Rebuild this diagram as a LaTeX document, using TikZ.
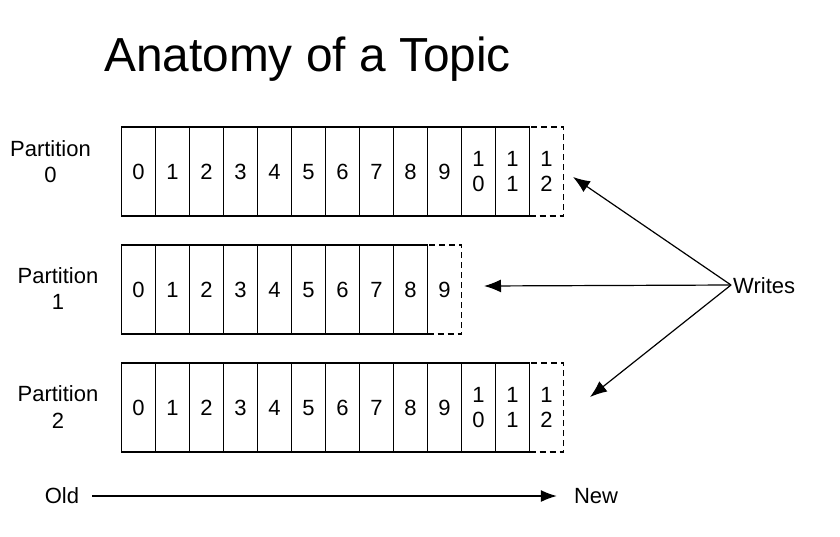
\documentclass[tikz,border=0pt]{standalone}
\usepackage{fontspec}
\setmainfont{Liberation Sans}
\usetikzlibrary{arrows.meta}
\begin{document}
\begin{tikzpicture}[x=1pt,y=-1pt,
  cellbase/.style={draw,line width=1.2pt,minimum width=34pt,minimum height=89pt,inner sep=0pt,anchor=west,font=\fontsize{22}{25.5}\selectfont,align=center,text depth=0pt},
  cell/.style={cellbase,text height=15.8pt},
  twocell/.style={cellbase},
  newcell/.style={cellbase,dash pattern=on 6pt off 4pt},
  lbl/.style={font=\fontsize{22}{26.5}\selectfont,align=center,inner sep=0pt},
  arr/.style={line width=1.2pt,-{Latex[length=17pt,width=13pt]}}]
\useasboundingbox (0,0) rectangle (840,536);
\node[anchor=base west,inner sep=0pt,font=\fontsize{47.8}{56}\selectfont] (title) at (104,71) {Anatomy of a Topic};
% labels
\node[lbl] (l0) at (50.5,161.5) {Partition\\0};
\node[lbl] (l1) at (58,288.5) {Partition\\1};
\node[lbl] (l2) at (58,407) {Partition\\2};
% partition 0
\foreach \i in {0,...,9}
  \node[cell] (p0c\i) at ({121+34*\i},171.5) {\i};
\node[twocell] (p0c10) at ({121+34*10},171.5) {1\\0};
\node[twocell] (p0c11) at ({121+34*11},171.5) {1\\1};
\node[newcell] (p0c12) at ({121+34*12},171.5) {1\\2};
% partition 1
\foreach \i in {0,...,8}
  \node[cell] (p1c\i) at ({121+34*\i},289.5) {\i};
\node[newcell,text height=15.8pt] (p1c9) at ({121+34*9},289.5) {9};
% partition 2
\foreach \i in {0,...,9}
  \node[cell] (p2c\i) at ({121+34*\i},407.5) {\i};
\node[twocell] (p2c10) at ({121+34*10},407.5) {1\\0};
\node[twocell] (p2c11) at ({121+34*11},407.5) {1\\1};
\node[newcell] (p2c12) at ({121+34*12},407.5) {1\\2};
% writes
\node[anchor=west,inner sep=0pt,font=\fontsize{22}{26}\selectfont] (writes) at (733,286) {Writes};
\coordinate (w) at (731,285);
\coordinate (t0) at (573,177);
\coordinate (t1) at (484,286);
\coordinate (t2) at (590,397);
\draw[arr] (w) -- (t0);
\draw[arr] (w) -- (t1);
\draw[arr] (w) -- (t2);
% old/new
\node[inner sep=0pt,font=\fontsize{22}{26}\selectfont] (old) at (62,496) {Old};
\node[inner sep=0pt,font=\fontsize{22}{26}\selectfont] (new) at (596,496) {New};
\draw[line width=1.2pt,-{Latex[length=16pt,width=12pt]}] ([xshift=13pt]old.east) -- ([xshift=-17pt]new.west);
\end{tikzpicture}
\end{document}
